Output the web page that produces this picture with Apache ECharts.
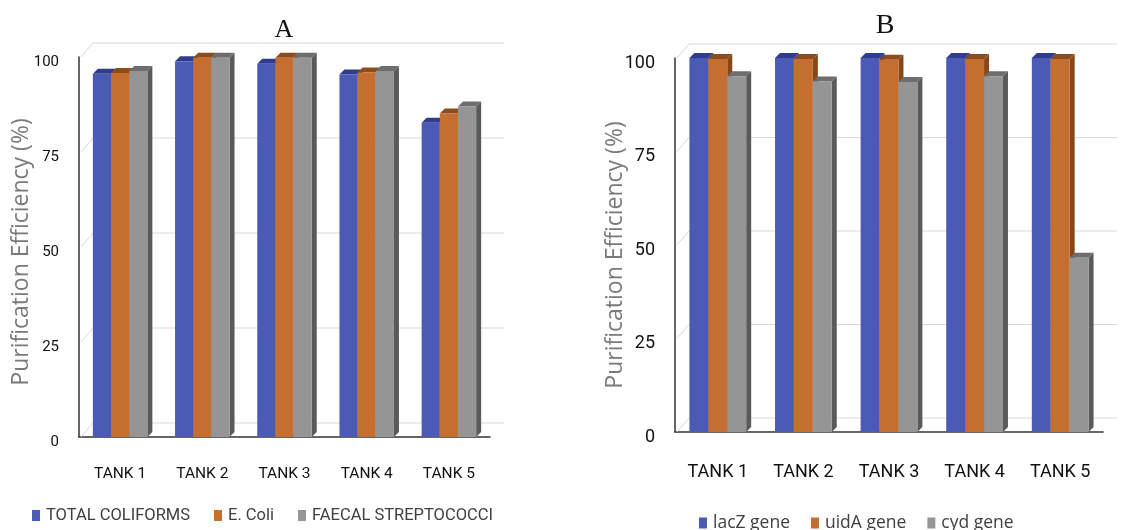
<!DOCTYPE html>
<html>
<head>
<meta charset="utf-8">
<script src="https://cdn.jsdelivr.net/npm/echarts@6/dist/echarts.min.js"></script>
<style>
  html, body { margin: 0; padding: 0; background: #fff; }
  #chart { width: 1121px; height: 530px; }
</style>
</head>
<body>
<div id="chart"></div>
<script>
// 数据
const tanks = ['TANK 1', 'TANK 2', 'TANK 3', 'TANK 4', 'TANK 5']
const yTicks = [0, 25, 50, 75, 100]

// A: 细菌指标
const namesA = ['TOTAL COLIFORMS', 'E. Coli', 'FAECAL STREPTOCOCCI']
const totalColiforms = [95.6, 98.9, 98.2, 95.4, 82.7]
const eColi = [95.8, 99.8, 99.8, 95.9, 85.1]
const faecalStrep = [96.3, 99.8, 99.8, 96.3, 87.0]

// B: 基因指标
const namesB = ['lacZ gene', 'uidA gene', 'cyd gene']
const lacZ = [100, 100, 100, 100, 100]
const uidA = [99.7, 99.7, 99.5, 99.7, 99.7]
const cyd = [95.1, 93.7, 93.6, 95.1, 46.6]

// 颜色: 正面 / 侧面 / 顶面
const palette = [
  { front: '#4a5ab5', side: '#2e3a85', top: '#2f3d8c' },
  { front: '#c46e2f', side: '#864719', top: '#8d4c1e' },
  { front: '#959595', side: '#5a5a5a', top: '#6e6e6e' }
]

const narrow = 'Roboto, "Liberation Sans", sans-serif'
const WALL_D = 14
const BAR_D = 5

// 3D 柱子
const barRender = (k) => (params, api) => {
  const c = palette[k]
  const idx = api.value(0)
  const base = api.coord([idx, 0])
  const top = api.coord([idx, api.value(1)])
  const bw = api.size([1, 0])[0] * 0.221
  const x0 = base[0] + (k - 1.5) * bw
  const x1 = x0 + bw
  const y0 = base[1]
  const y1 = top[1]
  return {
    type: 'group',
    children: [
      { type: 'polygon', shape: { points: [[x1, y0], [x1 + BAR_D, y0 - BAR_D], [x1 + BAR_D, y1 - BAR_D], [x1, y1]] }, style: { fill: c.side } },
      { type: 'polygon', shape: { points: [[x0, y1], [x0 + BAR_D, y1 - BAR_D], [x1 + BAR_D, y1 - BAR_D], [x1, y1]] }, style: { fill: c.top } },
      { type: 'rect', shape: { x: x0, y: y1, width: bw, height: y0 - y1 }, style: { fill: c.front } }
    ]
  }
}

// 背景墙网格线
const wallRender = (params, api) => {
  const cs = params.coordSys
  const y = api.coord([0, api.value(0)])[1]
  const style = { stroke: '#d9d9d9', lineWidth: 1 }
  return {
    type: 'group',
    children: [
      { type: 'line', shape: { x1: cs.x + 2, y1: y, x2: cs.x + WALL_D, y2: y - WALL_D }, style },
      { type: 'line', shape: { x1: cs.x + WALL_D, y1: y - WALL_D, x2: cs.x + cs.width + WALL_D, y2: y - WALL_D }, style }
    ]
  }
}

const makeBars = (names, arrays, axisIdx) => arrays.map((arr, k) => ({
  name: names[k],
  type: 'custom',
  xAxisIndex: axisIdx,
  yAxisIndex: axisIdx,
  renderItem: barRender(k),
  itemStyle: { color: palette[k].front },
  encode: { x: 0, y: 1 },
  data: arr.map((v, i) => [i, v]),
  z: 3
}))

const makeWall = (axisIdx) => ({
  type: 'custom',
  xAxisIndex: axisIdx,
  yAxisIndex: axisIdx,
  renderItem: wallRender,
  silent: true,
  encode: { y: 0 },
  data: yTicks.map(v => [v]),
  z: 1
})

const makeX = (idx, size, margin) => ({
  type: 'category',
  gridIndex: idx,
  data: tanks,
  offset: 5,
  axisTick: { show: false },
  axisLine: { lineStyle: { color: '#333', width: 1.5 } },
  axisLabel: { color: '#111', fontFamily: narrow, fontSize: size, margin }
})

const makeY = (idx, size, gap, shift) => ({
  type: 'value',
  gridIndex: idx,
  min: 0,
  max: 100,
  interval: 25,
  name: 'Purification Efficiency (%)',
  nameLocation: 'middle',
  nameGap: gap,
  nameMoveOverlap: false,
  nameTextStyle: { color: '#7a7a7a', fontFamily: '"Open Sans", sans-serif', fontSize: 23, padding: [0, 0, 0, shift] },
  axisLine: { show: true, lineStyle: { color: '#333', width: 1.5 } },
  axisTick: { show: false },
  splitLine: { show: false },
  axisLabel: { color: '#111', fontFamily: narrow, fontSize: size, margin: 20, verticalAlign: 'top', lineHeight: 10 }
})

const chart = echarts.init(document.getElementById('chart'))
chart.setOption({
  backgroundColor: '#fff',
  animation: false,
  title: [
    { text: 'A', left: 279, top: 12, textAlign: 'center', textStyle: { fontFamily: '"Liberation Serif", serif', fontSize: 26, fontWeight: 'normal', color: '#111' } },
    { text: 'B', left: 880, top: 7, textAlign: 'center', textStyle: { fontFamily: '"Liberation Serif", serif', fontSize: 28, fontWeight: 'normal', color: '#111' } }
  ],
  legend: [
    {
      data: namesA, left: 27, top: 502, icon: 'rect', itemWidth: 8, itemHeight: 11, itemGap: 24,
      textStyle: { color: '#404040', fontFamily: narrow, fontSize: 16.5, padding: [0, 0, 0, 1] }
    },
    {
      data: namesB, left: 694, top: 509, icon: 'rect', itemWidth: 8, itemHeight: 11, itemGap: 21,
      textStyle: { color: '#404040', fontFamily: '"Open Sans", sans-serif', fontSize: 17.5, padding: [0, 0, 0, 1] }
    }
  ],
  grid: [
    { left: 79, top: 57, width: 411, height: 380 },
    { left: 675, top: 58, width: 428, height: 374 }
  ],
  xAxis: [makeX(0, 15.5, 24), makeX(1, 18, 26)],
  yAxis: [makeY(0, 15, 46, -10), makeY(1, 18, 48, -20)],
  series: [
    makeWall(0),
    makeWall(1),
    ...makeBars(namesA, [totalColiforms, eColi, faecalStrep], 0),
    ...makeBars(namesB, [lacZ, uidA, cyd], 1)
  ]
})
</script>
</body>
</html>
